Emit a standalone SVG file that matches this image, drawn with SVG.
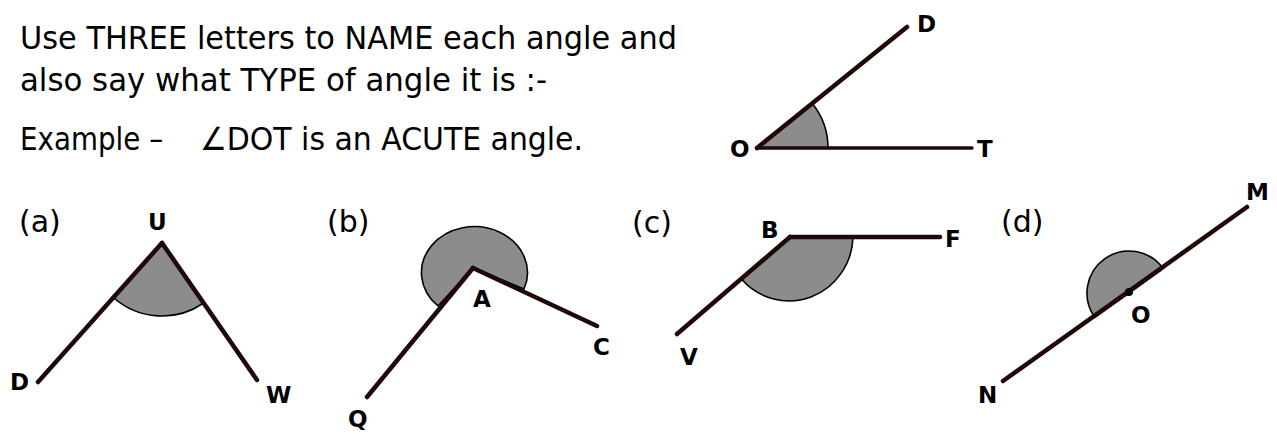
<svg xmlns="http://www.w3.org/2000/svg" width="1277" height="434" viewBox="0 0 1277 434">
<style>
.txt{font-family:"Comic Sans MS","DejaVu Sans",sans-serif;font-size:32px;fill:#000}
.lbl{font-family:"Comic Sans MS","DejaVu Sans",sans-serif;font-size:23px;font-weight:bold;fill:#000}
.part{font-family:"Comic Sans MS","DejaVu Sans",sans-serif;font-size:30px;fill:#000}
.ray{stroke:#1e0808;stroke-width:4.5;stroke-linecap:round;fill:none}
.thin{stroke-width:3.5}
.sec{fill:#8c8c8c;stroke:#000;stroke-width:1.6}
</style>
<rect width="1277" height="434" fill="#fff"/>
<g id="instructions">
<text class="txt" x="20" y="49" textLength="657" lengthAdjust="spacingAndGlyphs">Use THREE letters to NAME each angle and</text>
<text class="txt" x="20" y="91" textLength="527" lengthAdjust="spacingAndGlyphs">also say what TYPE of angle it is :-</text>
<text class="txt" x="20" y="150" textLength="143" lengthAdjust="spacingAndGlyphs">Example –</text>
<text class="txt" x="200" y="150" textLength="383" lengthAdjust="spacingAndGlyphs">∠DOT is an ACUTE angle.</text>
</g>
<g id="example">
<path class="sec" d="M828,148 A71,71 0 0 0 812.3,103.4 L757,148 Z"/>
<line class="ray" x1="757" y1="148" x2="907" y2="27"/>
<line class="ray thin" x1="757" y1="148" x2="972" y2="148"/>
<text class="lbl" x="917" y="32">D</text>
<text class="lbl" x="730" y="157">O</text>
<text class="lbl" x="977" y="157">T</text>
</g>
<g id="angle-a">
<text class="part" x="19" y="232">(a)</text>
<path class="sec" d="M203.6,303 A73,73 0 0 1 113.4,297.5 L162,243 Z"/>
<line class="ray" x1="162" y1="243" x2="38" y2="382"/>
<line class="ray" x1="162" y1="243" x2="257" y2="380"/>
<text class="lbl" x="148" y="230">U</text>
<text class="lbl" x="10" y="390">D</text>
<text class="lbl" x="266" y="403">W</text>
</g>
<g id="angle-b">
<text class="part" x="327" y="232">(b)</text>
<path class="sec" d="M438,306 A53,46 0 1 1 524,289 L473,268 Z"/>
<line class="ray" x1="473" y1="268" x2="367" y2="397"/>
<line class="ray" x1="473" y1="268" x2="597" y2="326"/>
<text class="lbl" x="473" y="307">A</text>
<text class="lbl" x="593" y="355">C</text>
<text class="lbl" x="348" y="427">Q</text>
</g>
<g id="angle-c">
<text class="part" x="632" y="233">(c)</text>
<path class="sec" d="M853,237 A64,66 0 0 1 741.4,279 L790,237 Z"/>
<line class="ray" x1="790" y1="237" x2="677" y2="334"/>
<line class="ray" x1="790" y1="237" x2="940" y2="237"/>
<text class="lbl" x="761" y="238">B</text>
<text class="lbl" x="945" y="247">F</text>
<text class="lbl" x="680" y="365">V</text>
</g>
<g id="angle-d">
<text class="part" x="1001" y="232">(d)</text>
<path class="sec" d="M1094.8,317.4 A42,42 0 0 1 1163.2,268.6 L1129,293 Z"/>
<line class="ray" x1="1003" y1="381" x2="1247" y2="207"/>
<circle cx="1129" cy="292" r="4" fill="#000"/>
<text class="lbl" x="1246" y="200">M</text>
<text class="lbl" x="978" y="403">N</text>
<text class="lbl" x="1131" y="323">O</text>
</g>
</svg>
